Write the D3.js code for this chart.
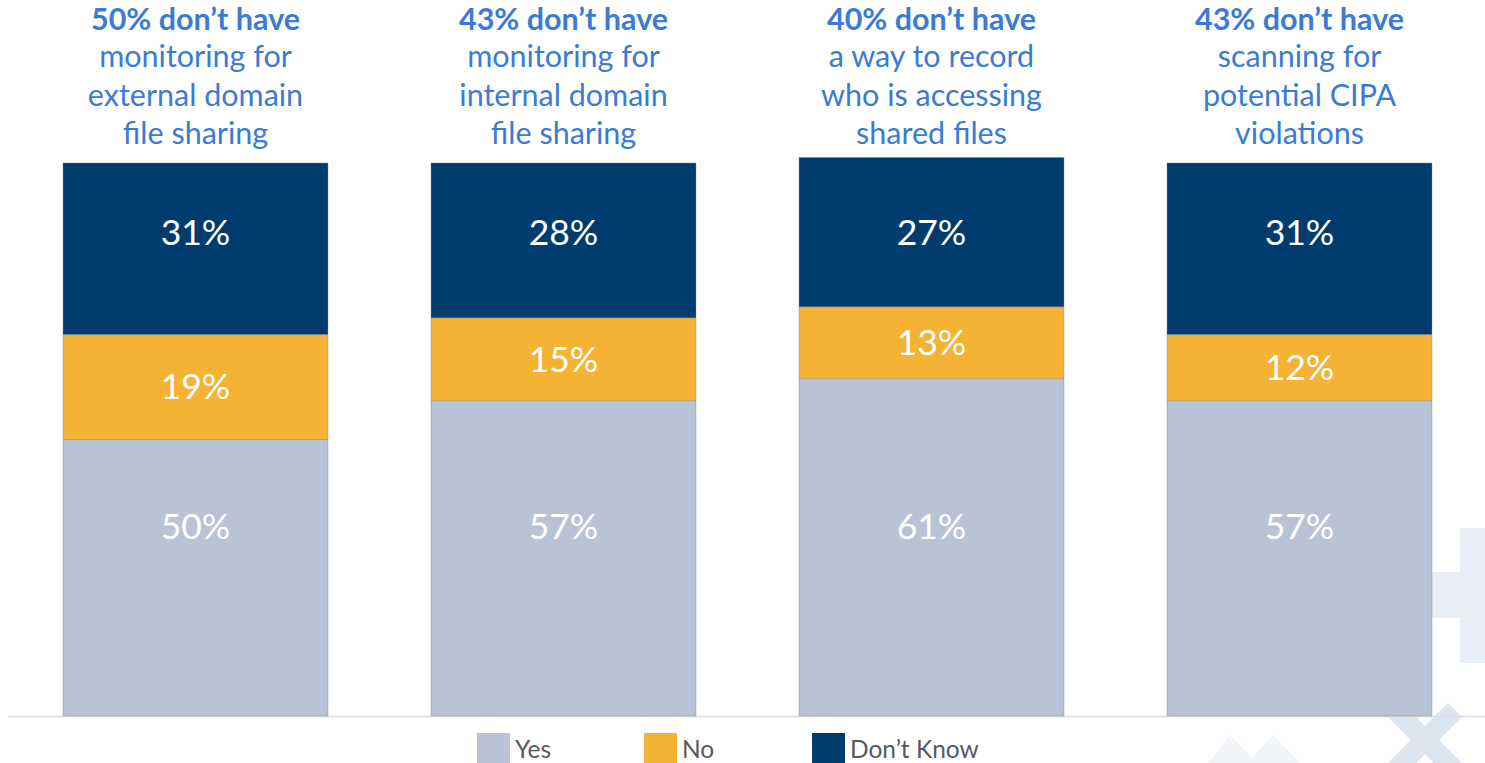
<!DOCTYPE html>
<html>
<head>
<meta charset="utf-8">
<script src="https://cdn.jsdelivr.net/npm/d3@7"></script>
<style>
  body { margin: 0; background: #fff; }
  svg { display: block; font-family: "Lato", "Open Sans", sans-serif; }
</style>
</head>
<body>
<div id="chart"></div>
<script>
// data
var categories = ["external", "internal", "record", "cipa"];
var headlines = ["50% don\u2019t have", "43% don\u2019t have", "40% don\u2019t have", "43% don\u2019t have"];
var subtitles = [
  ["monitoring for", "external domain", "file sharing"],
  ["monitoring for", "internal domain", "file sharing"],
  ["a way to record", "who is accessing", "shared files"],
  ["scanning for", "potential CIPA", "violations"]
];
var seriesKeys = ["Yes", "No", "Don't Know"];
var legendLabels = ["Yes", "No", "Don\u2019t Know"];
var yesValues = [50, 57, 61, 57];
var noValues = [19, 15, 13, 12];
var dontKnowValues = [31, 28, 27, 31];

var W = 1485, H = 763;
var colors = { "Yes": "#b8c3d5", "No": "#f5b335", "Don't Know": "#003d6e" };

var rows = categories.map(function(c, i) {
  return { cat: c, "Yes": yesValues[i], "No": noValues[i], "Don't Know": dontKnowValues[i] };
});

var svg = d3.select("#chart").append("svg")
    .attr("width", W)
    .attr("height", H);

// faint watermark shapes in the lower right corner
var deco = svg.append("g");
deco.append("rect").attr("x", 1460).attr("y", 528).attr("width", 30).attr("height", 135).attr("fill", "#eaeff7");
deco.append("rect").attr("x", 1420).attr("y", 572).attr("width", 45).attr("height", 46).attr("fill", "#eaeff7");
deco.append("path")
    .attr("d", "M1395,710 L1455,770 M1395,770 L1455,710")
    .attr("stroke", "#dce4f0").attr("stroke-width", 20).attr("fill", "none");
deco.append("path")
    .attr("d", "M1208,763 L1230,735 L1252,758 L1273,735 L1300,763 Z")
    .attr("fill", "#f1f4f9");

var x = d3.scaleBand()
    .domain(categories)
    .range([11.5, 1483.5])
    .paddingInner(0.28)
    .paddingOuter(0.14);

var y = d3.scaleLinear()
    .domain([0, 100])
    .range([716, 163]);

// baseline
svg.append("line")
    .attr("x1", 8).attr("x2", W)
    .attr("y1", y(0) + 0.5).attr("y2", y(0) + 0.5)
    .attr("stroke", "#d9dde3").attr("stroke-width", 1.5);

var stack = d3.stack().keys(seriesKeys)(rows);

var layer = svg.append("g")
  .selectAll("g")
  .data(stack)
  .enter().append("g")
    .attr("fill", function(d) { return colors[d.key]; });

layer.selectAll("rect")
  .data(function(d) { return d; })
  .enter().append("rect")
    .attr("x", function(d) { return x(d.data.cat); })
    .attr("y", function(d) { return y(d[1]); })
    .attr("width", x.bandwidth())
    .attr("height", function(d) { return y(d[0]) - y(d[1]); })
    .attr("stroke", "#7d848c")
    .attr("stroke-opacity", 0.5)
    .attr("stroke-width", 0.8);

// value labels: Yes and Don't Know sit at a fixed height, No is centred
var labelPos = {
  "Yes": function(d) { return y(34.2); },
  "No": function(d) { return (y(d[0]) + y(d[1])) / 2; },
  "Don't Know": function(d) { return y(87.5); }
};

layer.each(function(s) {
  d3.select(this).selectAll("text")
    .data(s)
    .enter().append("text")
      .attr("x", function(d) { return x(d.data.cat) + x.bandwidth() / 2; })
      .attr("y", function(d) { return labelPos[s.key](d); })
      .attr("dy", "0.35em")
      .attr("text-anchor", "middle")
      .attr("fill", "#fff")
      .style("font-size", "35.5px")
      .text(function(d) { return (d[1] - d[0]) + "%"; });
});

// titles above bars
var titles = svg.append("g")
  .selectAll("text")
  .data(categories)
  .enter().append("text")
    .attr("text-anchor", "middle")
    .attr("fill", "#3a7bd5")
    .style("font-size", "30.5px");

titles.append("tspan")
    .attr("x", function(d) { return x(d) + x.bandwidth() / 2; })
    .attr("y", 30)
    .style("font-weight", "bold")
    .style("font-size", "30.5px")
    .text(function(d, i) { return headlines[i]; });

titles.each(function(d, i) {
  var t = d3.select(this);
  subtitles[i].forEach(function(line, j) {
    t.append("tspan")
      .attr("x", x(d) + x.bandwidth() / 2)
      .attr("y", 67 + j * 38.5)
      .text(line);
  });
});

// legend
var legendX = [477, 644, 812];
var legend = svg.append("g")
  .selectAll("g")
  .data(seriesKeys)
  .enter().append("g")
    .attr("transform", function(d, i) { return "translate(" + legendX[i] + ",733)"; });

legend.append("rect")
    .attr("width", 33).attr("height", 33)
    .attr("fill", function(d) { return colors[d]; });

legend.append("text")
    .attr("x", 38).attr("y", 25)
    .attr("fill", "#555a61")
    .style("font-size", "24.5px")
    .text(function(d, i) { return legendLabels[i]; });
</script>
</body>
</html>
